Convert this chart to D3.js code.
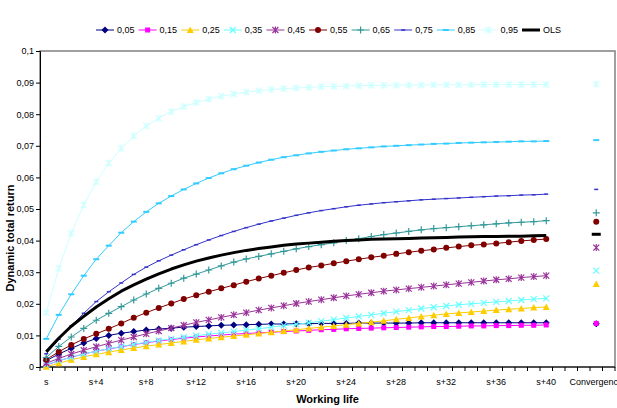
<!DOCTYPE html>
<html><head><meta charset="utf-8">
<script src="https://cdn.jsdelivr.net/npm/d3@7"></script>
<style>
body{margin:0;background:#fff}
svg{display:block}
text{font-family:"Liberation Sans",Arial,sans-serif}
</style>
</head><body>
<svg id="chart" width="617" height="408"></svg>
<script>
// ---------- data ----------
const categories = ["s","s+1","s+2","s+3","s+4","s+5","s+6","s+7","s+8","s+9","s+10",
  "s+11","s+12","s+13","s+14","s+15","s+16","s+17","s+18","s+19","s+20",
  "s+21","s+22","s+23","s+24","s+25","s+26","s+27","s+28","s+29","s+30",
  "s+31","s+32","s+33","s+34","s+35","s+36","s+37","s+38","s+39","s+40",
  "s+41","s+42","s+43","Convergence",""];
const xTickLabels = ["s","s+4","s+8","s+12","s+16","s+20","s+24","s+28","s+32","s+36","s+40","Convergence"];
const yTicks = [0,0.01,0.02,0.03,0.04,0.05,0.06,0.07,0.08,0.09,0.1];
const seriesNames = ["0,05","0,15","0,25","0,35","0,45","0,55","0,65","0,75","0,85","0,95","OLS"];

const q05 = [0.0020,0.0041,0.0059,0.0076,0.0090,0.0100,0.0107,0.0112,0.0117,0.0120,0.0123,0.0126,0.0128,0.0130,0.0132,0.0133,0.0134,0.0135,0.0136,0.0136,0.0137,0.0137,0.0138,0.0138,0.0138,0.0139,0.0139,0.0139,0.0139,0.0139,0.0140,0.0140,0.0140,0.0140,0.0140,0.0140,0.0140,0.0140,0.0140,0.0140,0.0140];
const q15 = [0.0006,0.0020,0.0031,0.0041,0.0050,0.0057,0.0064,0.0071,0.0077,0.0082,0.0087,0.0091,0.0095,0.0098,0.0101,0.0104,0.0106,0.0108,0.0110,0.0112,0.0114,0.0116,0.0118,0.0119,0.0121,0.0122,0.0123,0.0124,0.0125,0.0126,0.0127,0.0128,0.0128,0.0129,0.0130,0.0130,0.0131,0.0131,0.0132,0.0132,0.0133];
const q25 = [0.0001,0.0012,0.0023,0.0032,0.0040,0.0047,0.0054,0.0060,0.0066,0.0071,0.0076,0.0081,0.0086,0.0090,0.0094,0.0098,0.0102,0.0106,0.0110,0.0114,0.0118,0.0122,0.0126,0.0130,0.0134,0.0138,0.0142,0.0146,0.0151,0.0155,0.0160,0.0164,0.0168,0.0171,0.0174,0.0177,0.0180,0.0183,0.0185,0.0188,0.0190];
const q35 = [0.0008,0.0020,0.0031,0.0041,0.0050,0.0058,0.0065,0.0072,0.0078,0.0084,0.0089,0.0094,0.0099,0.0104,0.0108,0.0112,0.0117,0.0121,0.0126,0.0131,0.0135,0.0140,0.0145,0.0150,0.0155,0.0160,0.0165,0.0170,0.0175,0.0180,0.0185,0.0189,0.0193,0.0197,0.0200,0.0203,0.0206,0.0209,0.0212,0.0215,0.0217];
const q45 = [0.0012,0.0027,0.0041,0.0053,0.0064,0.0075,0.0085,0.0095,0.0105,0.0114,0.0123,0.0132,0.0141,0.0149,0.0157,0.0165,0.0172,0.0180,0.0187,0.0194,0.0201,0.0207,0.0213,0.0219,0.0225,0.0230,0.0235,0.0240,0.0244,0.0248,0.0252,0.0256,0.0260,0.0264,0.0268,0.0272,0.0276,0.0279,0.0283,0.0286,0.0289];
const q55 = [0.0024,0.0048,0.0070,0.0089,0.0105,0.0121,0.0138,0.0156,0.0172,0.0187,0.0201,0.0215,0.0227,0.0238,0.0249,0.0259,0.0270,0.0280,0.0289,0.0298,0.0307,0.0315,0.0321,0.0328,0.0335,0.0341,0.0347,0.0352,0.0358,0.0363,0.0368,0.0372,0.0377,0.0381,0.0385,0.0388,0.0391,0.0395,0.0399,0.0402,0.0405];
const q65 = [0.0030,0.0065,0.0095,0.0122,0.0148,0.0170,0.0191,0.0212,0.0231,0.0249,0.0265,0.0281,0.0294,0.0307,0.0320,0.0332,0.0342,0.0350,0.0358,0.0366,0.0374,0.0381,0.0387,0.0393,0.0400,0.0406,0.0413,0.0419,0.0424,0.0429,0.0434,0.0438,0.0441,0.0444,0.0447,0.0450,0.0453,0.0456,0.0458,0.0460,0.0463];
const q75 = [0.0042,0.0088,0.0130,0.0170,0.0207,0.0238,0.0266,0.0293,0.0316,0.0336,0.0354,0.0371,0.0387,0.0402,0.0416,0.0429,0.0441,0.0452,0.0462,0.0471,0.0480,0.0488,0.0495,0.0501,0.0507,0.0512,0.0516,0.0520,0.0523,0.0526,0.0529,0.0531,0.0533,0.0535,0.0537,0.0539,0.0541,0.0542,0.0544,0.0545,0.0547];
const q85 = [0.0089,0.0165,0.0230,0.0289,0.0341,0.0384,0.0425,0.0460,0.0491,0.0518,0.0541,0.0562,0.0581,0.0598,0.0613,0.0626,0.0637,0.0647,0.0656,0.0664,0.0670,0.0676,0.0681,0.0685,0.0689,0.0692,0.0695,0.0698,0.0700,0.0702,0.0704,0.0706,0.0707,0.0709,0.0710,0.0711,0.0712,0.0713,0.0714,0.0714,0.0715];
const q95 = [0.0172,0.0312,0.0423,0.0513,0.0586,0.0645,0.0692,0.0731,0.0763,0.0787,0.0808,0.0824,0.0837,0.0848,0.0857,0.0864,0.0870,0.0874,0.0878,0.0881,0.0883,0.0885,0.0887,0.0888,0.0889,0.0890,0.0891,0.0891,0.0892,0.0892,0.0892,0.0893,0.0893,0.0893,0.0893,0.0894,0.0894,0.0894,0.0894,0.0894,0.0894];
const ols = [0.0048,0.0091,0.0129,0.0160,0.0190,0.0216,0.0240,0.0260,0.0278,0.0295,0.0310,0.0323,0.0335,0.0345,0.0354,0.0362,0.0369,0.0375,0.0380,0.0385,0.0389,0.0392,0.0395,0.0398,0.0400,0.0402,0.0404,0.0405,0.0406,0.0407,0.0408,0.0409,0.0410,0.0411,0.0412,0.0413,0.0413,0.0414,0.0414,0.0415,0.0416];
// value at the "Convergence" category, same order as seriesNames
const convergence = [0.0137,0.0138,0.0263,0.0305,0.0378,0.0460,0.0488,0.0562,0.0718,0.0895,0.0420];

const seriesValues = [q05,q15,q25,q35,q45,q55,q65,q75,q85,q95,ols];
const colors = ["#000080","#FF00FF","#FFCC00","#66FFFF","#993399","#800000","#339999","#3333CC","#33CCFF","#CCFFFF","#000000"];
const markers = ["diamond","square","triangle","x","star","circle","plus","dashS","dashM","star","dashOLS"];

// ---------- layout ----------
const svg = d3.select("#chart");
const L = 40, R = 615, T = 51, B = 367;
const x = d3.scaleBand().domain(categories).range([L, R]).paddingInner(0).paddingOuter(0);
const xc = c => x(c) + x.bandwidth() / 2;
const y = d3.scaleLinear().domain([0, 0.1]).range([B, T]);
const fmt = d => String(+d.toFixed(2)).replace(".", ",");

// plot border
svg.append("rect").attr("x", L).attr("y", T).attr("width", R - L).attr("height", B - T)
  .attr("fill", "#fff").attr("stroke", "#808080").attr("stroke-width", 1.5);

// y axis
const yAxis = d3.axisLeft(y).tickValues(yTicks).tickFormat(fmt).tickSize(4).tickPadding(2);
const gy = svg.append("g").attr("transform", `translate(${L},0)`).call(yAxis);
gy.select(".domain").attr("stroke", "#000");
gy.selectAll("text").attr("font-size", 9).attr("fill", "#000");

// x axis: line + ticks between categories + labels every 4
const gx = svg.append("g");
gx.append("line").attr("x1", L).attr("x2", R).attr("y1", B).attr("y2", B).attr("stroke", "#000");
const boundaries = categories.map(c => x(c)).concat([x(categories[categories.length - 1]) + x.bandwidth()]);
gx.selectAll("line.tk").data(boundaries).join("line").attr("class", "tk")
  .attr("x1", d => d).attr("x2", d => d).attr("y1", B).attr("y2", B + 4).attr("stroke", "#000");
gx.selectAll("text.tl").data(xTickLabels).join("text").attr("class", "tl")
  .attr("x", d => xc(d)).attr("y", B + 18).attr("text-anchor", "middle")
  .attr("font-size", 9).text(d => d);

// axis titles
svg.append("text").attr("x", (L + R) / 2).attr("y", 403).attr("text-anchor", "middle")
  .attr("font-size", 11).attr("font-weight", "bold").text("Working life");
svg.append("text").attr("transform", `translate(14,${238}) rotate(-90)`).attr("text-anchor", "middle")
  .attr("font-size", 11).attr("font-weight", "bold").text("Dynamic total return");

// marker drawing
function drawMarker(g, type, cx, cy, color) {
  const s = g.append("g").attr("transform", `translate(${cx},${cy})`);
  switch (type) {
    case "diamond": s.append("path").attr("d", "M0,-3.5L3.5,0L0,3.5L-3.5,0Z").attr("fill", color); break;
    case "square": s.append("rect").attr("x", -2.5).attr("y", -2.5).attr("width", 5).attr("height", 5).attr("fill", color); break;
    case "triangle": s.append("path").attr("d", "M0,-3.5L3.5,3L-3.5,3Z").attr("fill", color); break;
    case "circle": s.append("circle").attr("r", 3).attr("fill", color); break;
    case "x": s.append("path").attr("d", "M-3,-3L3,3M-3,3L3,-3").attr("stroke", color).attr("stroke-width", 1.2); break;
    case "star": s.append("path").attr("d", "M-3,-3L3,3M-3,3L3,-3M0,-3.5L0,3.5").attr("stroke", color).attr("stroke-width", 1.2); break;
    case "plus": s.append("path").attr("d", "M-3.5,0L3.5,0M0,-3.5L0,3.5").attr("stroke", color).attr("stroke-width", 1.2); break;
    case "dashS": s.append("path").attr("d", "M-2,0L2,0").attr("stroke", color).attr("stroke-width", 1.5); break;
    case "dashM": s.append("path").attr("d", "M-3,0L3,0").attr("stroke", color).attr("stroke-width", 2); break;
    case "dashOLS": s.append("path").attr("d", "M-4.5,0L4.5,0").attr("stroke", color).attr("stroke-width", 3); break;
  }
}

// series
const line = d3.line().x(d => xc(d.c)).y(d => y(d.v));
seriesValues.forEach((vals, i) => {
  const pts = vals.map((v, j) => ({ c: categories[j], v }));
  const g = svg.append("g");
  const isOls = seriesNames[i] === "OLS";
  g.append("path").datum(pts).attr("d", line).attr("fill", "none")
    .attr("stroke", colors[i]).attr("stroke-width", isOls ? 3 : 1).attr("stroke-linejoin", "round");
  if (!isOls) pts.forEach(p => drawMarker(g, markers[i], xc(p.c), y(p.v), colors[i]));
  drawMarker(g, markers[i], xc("Convergence"), y(convergence[i]), colors[i]);
});

// legend
const lg = svg.append("g");
seriesNames.forEach((n, i) => {
  const x0 = 96 + i * 42.6, cy = 30;
  const isOls = n === "OLS";
  lg.append("line").attr("x1", x0).attr("x2", x0 + 18).attr("y1", cy).attr("y2", cy)
    .attr("stroke", colors[i]).attr("stroke-width", isOls ? 3 : 1);
  if (!isOls) drawMarker(lg, markers[i], x0 + 9, cy, colors[i]);
  lg.append("text").attr("x", x0 + 21).attr("y", cy + 3).attr("font-size", 9).text(n);
});
</script>
</body></html>
